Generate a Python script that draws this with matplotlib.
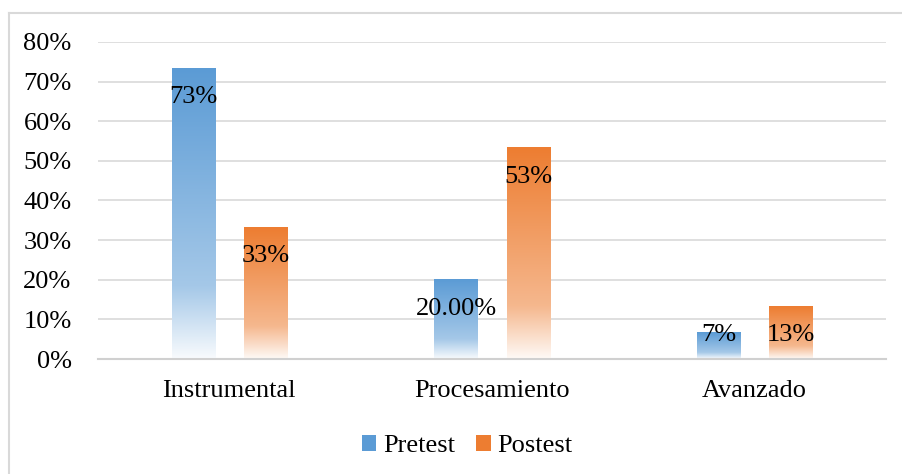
import numpy as np
import matplotlib.pyplot as plt
from matplotlib.colors import LinearSegmentedColormap, to_rgb
from matplotlib.patches import Patch
from matplotlib.lines import Line2D

# Datos
categorias = ['Instrumental', 'Procesamiento', 'Avanzado']
pretest = [73.3, 20.0, 6.7]
postest = [33.3, 53.3, 13.3]
etiquetas_pre = ['73%', '20.00%', '7%']
etiquetas_post = ['33%', '53%', '13%']
series = ['Pretest', 'Postest']

azul = '#5B9BD5'
naranja = '#ED7D31'

plt.rcParams['font.family'] = ['Liberation Serif', 'DejaVu Serif']

W, H = 902, 474
fig = plt.figure(figsize=(W / 100, H / 100), dpi=100)
ax = fig.add_axes([98 / W, 1 - 359 / H, 788 / W, 317 / H])


def degradado(color):
    c = np.array(to_rgb(color))
    blanco = np.ones(3)
    def tinte(k):
        return tuple(c + (blanco - c) * k)
    return LinearSegmentedColormap.from_list('g', [
        (0.0, tinte(0.96)),
        (0.2, tinte(0.55)),
        (0.25, tinte(0.45)),
        (1.0, tinte(0.0)),
    ])


def barra(x, ancho, altura, color):
    grad = np.linspace(0, 1, 256).reshape(-1, 1)
    ax.imshow(grad, cmap=degradado(color), origin='lower', aspect='auto',
              extent=(x - ancho / 2, x + ancho / 2, 0, altura), zorder=2,
              interpolation='bilinear')


x = np.arange(len(categorias))
ancho = 0.164
sep = 0.2745
fs = 19

for i in range(len(categorias)):
    barra(x[i] - sep / 2, ancho, pretest[i], azul)
    barra(x[i] + sep / 2, ancho, postest[i], naranja)
    for xs, v, t in [(x[i] - sep / 2, pretest[i], etiquetas_pre[i]),
                     (x[i] + sep / 2, postest[i], etiquetas_post[i])]:
        yl = max(v - 7.3, 6.0)
        ax.text(xs, yl, t, ha='center', va='center', fontsize=fs,
                color='#000000', zorder=4)

ax.set_xlim(-0.5, len(categorias) - 0.5)
ax.set_ylim(0, 80)
ax.set_yticks(np.arange(0, 81, 10))
ax.set_yticklabels([f'{v}%' for v in range(0, 81, 10)], fontsize=fs)
ax.set_xticks(x)
ax.set_xticklabels(categorias, fontsize=fs)
ax.tick_params(length=0)
ax.tick_params(axis='y', pad=19)
ax.tick_params(axis='x', pad=15)
ax.grid(axis='y', color='#D9D9D9', linewidth=1.2, zorder=0)
ax.set_axisbelow(True)
for s in ['top', 'right', 'left']:
    ax.spines[s].set_visible(False)
ax.spines['bottom'].set_color('#D0D0D0')
ax.spines['bottom'].set_linewidth(1.5)

handles = [Patch(facecolor=azul, edgecolor='none'),
           Patch(facecolor=naranja, edgecolor='none')]
fig.legend(handles, series, loc='center', bbox_to_anchor=(467 / W, 1 - 446 / H),
           ncol=2, frameon=False, fontsize=fs, handlelength=0.55,
           handleheight=0.55, handletextpad=0.25, columnspacing=0.8)

# Borde del grafico
fig.add_artist(Line2D([8.5 / W, 8.5 / W], [0, 1 - 12.5 / H], color='#D9D9D9', lw=1.5))
fig.add_artist(Line2D([8.5 / W, 1], [1 - 12.5 / H, 1 - 12.5 / H], color='#D9D9D9', lw=1.5))

fig.savefig('out.png', dpi=100)
